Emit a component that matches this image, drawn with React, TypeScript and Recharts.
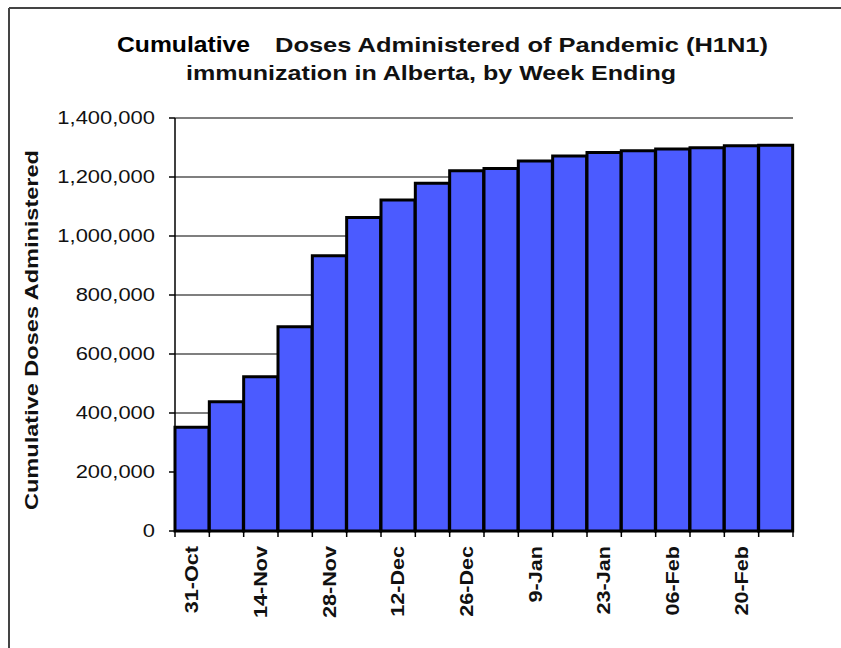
import { BarChart, Bar, XAxis, YAxis, CartesianGrid } from 'recharts'

const FONT = '"Liberation Sans", Arial, sans-serif'

const weeks = [
  '31-Oct', '07-Nov', '14-Nov', '21-Nov', '28-Nov', '05-Dec', '12-Dec', '19-Dec', '26-Dec',
  '2-Jan', '9-Jan', '16-Jan', '23-Jan', '30-Jan', '06-Feb', '13-Feb', '20-Feb', '27-Feb',
]
const doses = [
  352000, 438000, 523000, 692000, 933000, 1063000, 1122000, 1179000, 1221000,
  1229000, 1254000, 1271000, 1283000, 1289000, 1295000, 1299000, 1306000, 1308000,
]
const shownLabels = ['31-Oct', '14-Nov', '28-Nov', '12-Dec', '26-Dec', '9-Jan', '23-Jan', '06-Feb', '20-Feb']
const yTicks = [0, 200000, 400000, 600000, 800000, 1000000, 1200000, 1400000]

const data = weeks.map((w, i) => ({ week: w, doses: doses[i] }))

function YTick({ x, y, payload }: any) {
  return (
    <g transform={`translate(${x},${y})`}>
      <text transform="scale(1.22,1)" textAnchor="end" dy="0.35em" fontSize={18} fill="#111" fontFamily={FONT}>
        {Number(payload.value).toLocaleString('en-US')}
      </text>
    </g>
  )
}

// tick marks sit on the bar boundaries, labels on every other week
function XTick({ x, y, payload, index }: any) {
  const half = payload.offset ?? 17
  const last = index === weeks.length - 1
  return (
    <g>
      <line x1={x - half} x2={x - half} y1={y} y2={y + 6} stroke="#000" strokeWidth={1.5} />
      {last && <line x1={x + half} x2={x + half} y1={y} y2={y + 6} stroke="#000" strokeWidth={1.5} />}
      {shownLabels.includes(payload.value) && (
        <g transform={`translate(${x},${y + 15}) rotate(-90) scale(1.2,1)`}>
          <text textAnchor="end" dy="0.35em" fontSize={18} fontWeight="bold" fill="#111" fontFamily={FONT}>
            {payload.value}
          </text>
        </g>
      )}
    </g>
  )
}

export default function App() {
  return (
    <div style={{ position: 'absolute', left: 0, top: 0, width: 841, height: 648, background: '#fff' }}>
      <BarChart
        width={841}
        height={648}
        data={data}
        margin={{ top: 118, right: 48, bottom: 17, left: 15 }}
        barCategoryGap={0}
      >
        <CartesianGrid vertical={false} stroke="#000" strokeWidth={1.2} />
        <XAxis
          dataKey="week"
          height={100}
          interval={0}
          tickLine={false}
          tickSize={0}
          tickMargin={0}
          axisLine={{ stroke: '#000', strokeWidth: 2 }}
          tick={<XTick />}
        />
        <YAxis
          width={160}
          domain={[0, 1400000]}
          ticks={yTicks}
          tickSize={6}
          tickMargin={14}
          tickLine={{ stroke: '#000', strokeWidth: 1.5 }}
          axisLine={{ stroke: '#000', strokeWidth: 1.5 }}
          tick={<YTick />}
        />
        <YAxis
          yAxisId="frame"
          orientation="right"
          width={0}
          domain={[0, 1]}
          tick={false}
          tickLine={false}
          axisLine={{ stroke: '#000', strokeWidth: 1.5 }}
        />
        <Bar dataKey="doses" fill="#4b5bff" stroke="#000" strokeWidth={3} isAnimationActive={false} />
      </BarChart>
      <svg
        width={841}
        height={648}
        style={{ position: 'absolute', left: 0, top: 0, pointerEvents: 'none' }}
      >
        <line x1={9} x2={841} y1={8} y2={8} stroke="#444" strokeWidth={2} />
        <line x1={9} x2={9} y1={8} y2={648} stroke="#444" strokeWidth={2} />
        <text x={117} y={52} fontSize={22} fontWeight="bold" fill="#000" fontFamily={FONT} textLength={133} lengthAdjust="spacingAndGlyphs">
          Cumulative
        </text>
        <text x={275} y={52} fontSize={21} fontWeight="bold" fill="#111" fontFamily={FONT} textLength={493} lengthAdjust="spacingAndGlyphs">
          Doses Administered of Pandemic (H1N1)
        </text>
        <text x={186} y={80} fontSize={21} fontWeight="bold" fill="#111" fontFamily={FONT} textLength={490} lengthAdjust="spacingAndGlyphs">
          immunization in Alberta, by Week Ending
        </text>
        <text
          transform="translate(31,330) rotate(-90)"
          textAnchor="middle"
          dy="0.35em"
          fontSize={19}
          fontWeight="bold"
          fill="#111"
          fontFamily={FONT}
          textLength={360}
          lengthAdjust="spacingAndGlyphs"
        >
          Cumulative Doses Administered
        </text>
      </svg>
    </div>
  )
}
